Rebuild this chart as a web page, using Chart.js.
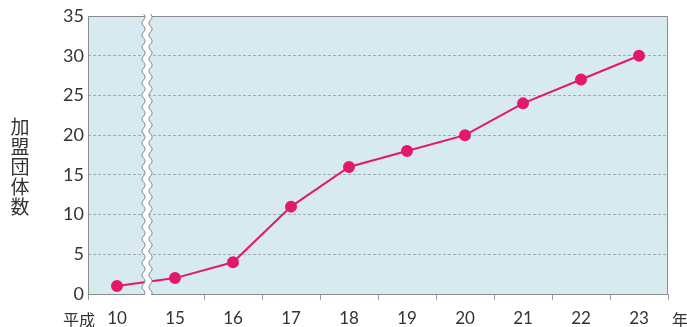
<!DOCTYPE html>
<html>
<head>
<meta charset="utf-8">
<script src="https://cdn.jsdelivr.net/npm/chart.js@4"></script>
<style>
  html, body { margin: 0; padding: 0; background: #fff; }
  #wrap { width: 687px; height: 327px; }
</style>
</head>
<body>
<div id="wrap"><canvas id="c"></canvas></div>
<script>
// 加盟団体数の推移（平成10年〜23年）
const years = ['10', '15', '16', '17', '18', '19', '20', '21', '22', '23'];
const members = [1, 2, 4, 11, 16, 18, 20, 24, 27, 30];
const yTitle = '加盟団体数';
const xPrefix = '平成';
const xSuffix = '年';

const FONT = '"Noto Sans CJK JP", "Noto Sans", sans-serif';
const NUM_FONT = 'Lato, "Open Sans", sans-serif';
const TEXT = '#333';
const GRID = '#9a9a9a';

const decor = {
  id: 'decor',
  beforeDraw(chart) {
    const { ctx, chartArea: a } = chart;
    ctx.save();
    ctx.fillStyle = '#d7eaf0';
    ctx.fillRect(a.left, a.top, a.right - a.left, a.bottom - a.top);
    ctx.restore();
  },
  beforeDatasetsDraw(chart) {
    const { ctx, chartArea: a } = chart;
    ctx.save();
    ctx.strokeStyle = '#8c8c8c';
    ctx.lineWidth = 1;
    ctx.strokeRect(a.left + 0.5, a.top + 0.5, a.right - a.left - 1, a.bottom - a.top);
    ctx.restore();
  },
  afterDatasetsDraw(chart) {
    const { ctx, chartArea: a, scales } = chart;
    const x = scales.x;
    const cx = (x.getPixelForTick(0) + x.getPixelForTick(1)) / 2 + 1;
    const top = a.top - 2, bot = a.bottom + 1;
    const wave = (off) => {
      const pts = [];
      for (let y = top; y <= bot; y += 1) {
        pts.push([cx + off + 1.6 * Math.sin((y - top) / 12 * 2 * Math.PI), y]);
      }
      return pts;
    };
    const L = wave(-3.5), R = wave(3.5);
    ctx.save();
    ctx.beginPath();
    L.forEach((p, i) => i ? ctx.lineTo(p[0], p[1]) : ctx.moveTo(p[0], p[1]));
    for (let i = R.length - 1; i >= 0; i--) ctx.lineTo(R[i][0], R[i][1]);
    ctx.closePath();
    ctx.fillStyle = '#fff';
    ctx.fill();
    ctx.strokeStyle = '#8c8c8c';
    ctx.lineWidth = 1;
    [L, R].forEach(pts => {
      ctx.beginPath();
      pts.forEach((p, i) => i ? ctx.lineTo(p[0], p[1]) : ctx.moveTo(p[0], p[1]));
      ctx.stroke();
    });
    ctx.restore();
  },
  afterDraw(chart) {
    const { ctx } = chart;
    ctx.save();
    ctx.fillStyle = TEXT;
    ctx.textAlign = 'center';
    ctx.textBaseline = 'middle';
    ctx.font = '19px ' + FONT;
    [...yTitle].forEach((ch, i) => ctx.fillText(ch, 20, 127 + i * 20));
    ctx.font = '16px ' + FONT;
    ctx.fillText(xPrefix, 79, 320);
    ctx.fillText(xSuffix, 680, 320);
    ctx.restore();
  }
};

new Chart(document.getElementById('c'), {
  type: 'line',
  data: {
    labels: years,
    datasets: [{
      data: members,
      borderColor: '#e3176e',
      backgroundColor: '#e3176e',
      borderWidth: 2,
      tension: 0,
      pointRadius: 5,
      pointHoverRadius: 5,
      fill: false
    }]
  },
  options: {
    responsive: true,
    maintainAspectRatio: false,
    animation: false,
    layout: { padding: { top: 16, right: 19, left: 0, bottom: 0 } },
    plugins: {
      legend: { display: false },
      tooltip: { enabled: false }
    },
    scales: {
      x: {
        offset: true,
        afterFit: s => { s.height = 33; },
        border: { display: false },
        grid: {
          offset: true,
          drawOnChartArea: false,
          tickLength: 6,
          color: c => c.index === 1 ? 'rgba(0,0,0,0)' : GRID
        },
        ticks: {
          color: TEXT,
          padding: 8,
          maxRotation: 0,
          font: { family: NUM_FONT, size: 17 }
        }
      },
      y: {
        min: 0,
        max: 35,
        afterFit: s => { s.width = 88; },
        border: { display: false, dash: [3, 2] },
        grid: {
          drawTicks: false,
          color: c => (c.tick.value === 0 || c.tick.value === 35) ? 'rgba(0,0,0,0)' : GRID,
          lineWidth: 0.8
        },
        ticks: {
          stepSize: 5,
          color: TEXT,
          padding: 4,
          font: { family: NUM_FONT, size: 18 }
        }
      }
    }
  },
  plugins: [decor]
});
</script>
</body>
</html>
